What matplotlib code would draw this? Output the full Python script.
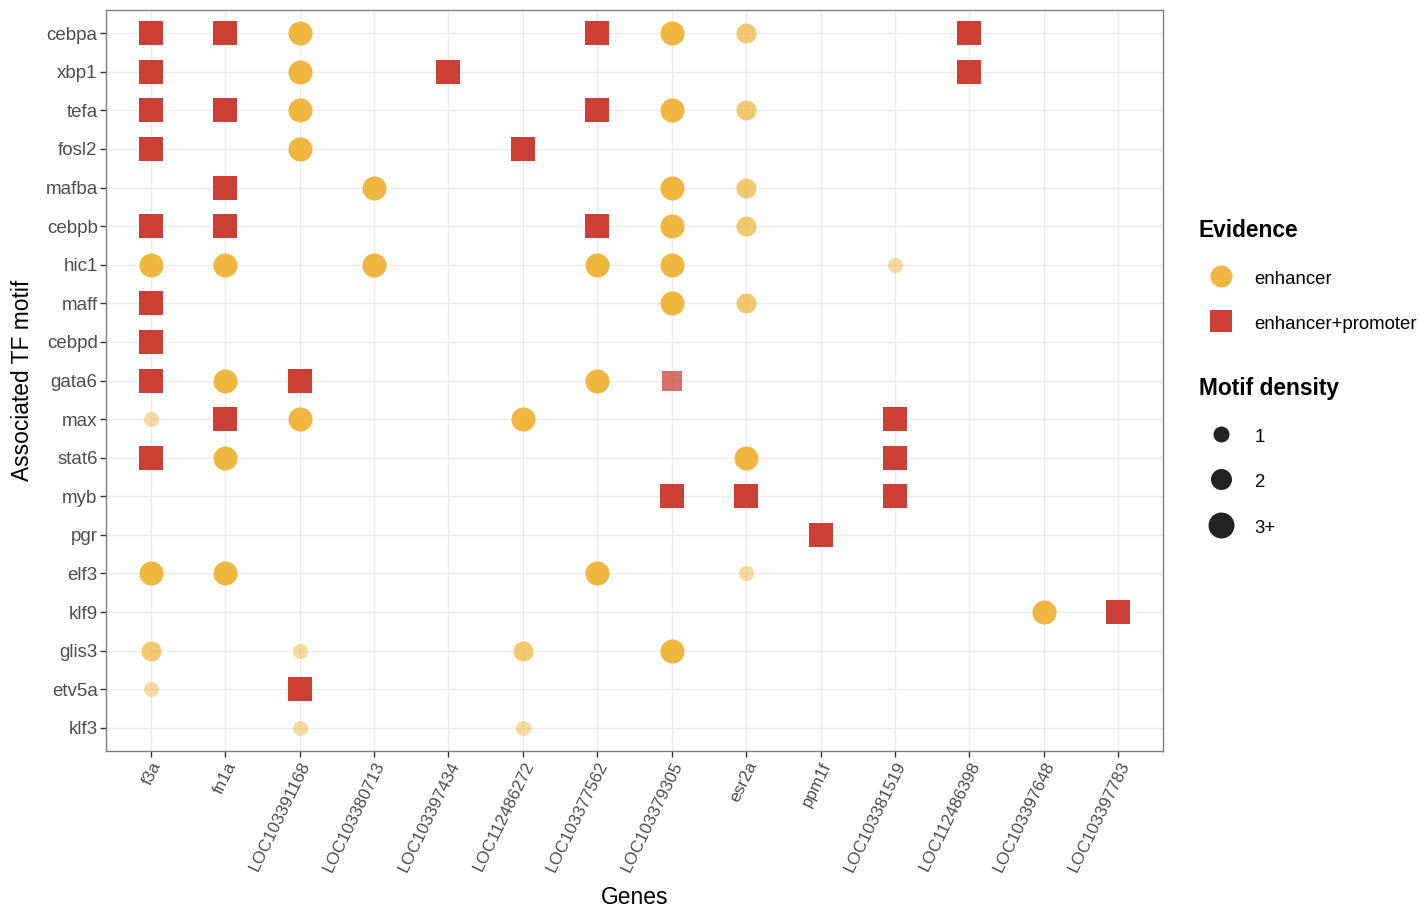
import matplotlib
matplotlib.use('Agg')
import matplotlib.pyplot as plt
from matplotlib.lines import Line2D

plt.rcParams['font.family'] = ['Liberation Sans', 'DejaVu Sans']

# Categories
genes = ['f3a', 'fn1a', 'LOC103391168', 'LOC103380713', 'LOC103397434',
         'LOC112486272', 'LOC103377562', 'LOC103379305', 'esr2a', 'ppm1f',
         'LOC103381519', 'LOC112486398', 'LOC103397648', 'LOC103397783']
motifs = ['cebpa', 'xbp1', 'tefa', 'fosl2', 'mafba', 'cebpb', 'hic1', 'maff',
          'cebpd', 'gata6', 'max', 'stat6', 'myb', 'pgr', 'elf3', 'klf9',
          'glis3', 'etv5a', 'klf3']

# Points: (motif, gene, evidence, motif density)  E = enhancer, EP = enhancer+promoter
points = [
    ('cebpa', 'f3a', 'EP', 3), ('cebpa', 'fn1a', 'EP', 3), ('cebpa', 'LOC103391168', 'E', 3),
    ('cebpa', 'LOC103377562', 'EP', 3), ('cebpa', 'LOC103379305', 'E', 3), ('cebpa', 'esr2a', 'E', 2),
    ('cebpa', 'LOC112486398', 'EP', 3),
    ('xbp1', 'f3a', 'EP', 3), ('xbp1', 'LOC103391168', 'E', 3), ('xbp1', 'LOC103397434', 'EP', 3),
    ('xbp1', 'LOC112486398', 'EP', 3),
    ('tefa', 'f3a', 'EP', 3), ('tefa', 'fn1a', 'EP', 3), ('tefa', 'LOC103391168', 'E', 3),
    ('tefa', 'LOC103377562', 'EP', 3), ('tefa', 'LOC103379305', 'E', 3), ('tefa', 'esr2a', 'E', 2),
    ('fosl2', 'f3a', 'EP', 3), ('fosl2', 'LOC103391168', 'E', 3), ('fosl2', 'LOC112486272', 'EP', 3),
    ('mafba', 'fn1a', 'EP', 3), ('mafba', 'LOC103380713', 'E', 3), ('mafba', 'LOC103379305', 'E', 3),
    ('mafba', 'esr2a', 'E', 2),
    ('cebpb', 'f3a', 'EP', 3), ('cebpb', 'fn1a', 'EP', 3), ('cebpb', 'LOC103377562', 'EP', 3),
    ('cebpb', 'LOC103379305', 'E', 3), ('cebpb', 'esr2a', 'E', 2),
    ('hic1', 'f3a', 'E', 3), ('hic1', 'fn1a', 'E', 3), ('hic1', 'LOC103380713', 'E', 3),
    ('hic1', 'LOC103377562', 'E', 3), ('hic1', 'LOC103379305', 'E', 3), ('hic1', 'LOC103381519', 'E', 1),
    ('maff', 'f3a', 'EP', 3), ('maff', 'LOC103379305', 'E', 3), ('maff', 'esr2a', 'E', 2),
    ('cebpd', 'f3a', 'EP', 3),
    ('gata6', 'f3a', 'EP', 3), ('gata6', 'fn1a', 'E', 3), ('gata6', 'LOC103391168', 'EP', 3),
    ('gata6', 'LOC103377562', 'E', 3), ('gata6', 'LOC103379305', 'EP', 2),
    ('max', 'f3a', 'E', 1), ('max', 'fn1a', 'EP', 3), ('max', 'LOC103391168', 'E', 3),
    ('max', 'LOC112486272', 'E', 3), ('max', 'LOC103381519', 'EP', 3),
    ('stat6', 'f3a', 'EP', 3), ('stat6', 'fn1a', 'E', 3), ('stat6', 'esr2a', 'E', 3),
    ('stat6', 'LOC103381519', 'EP', 3),
    ('myb', 'LOC103379305', 'EP', 3), ('myb', 'esr2a', 'EP', 3), ('myb', 'LOC103381519', 'EP', 3),
    ('pgr', 'ppm1f', 'EP', 3),
    ('elf3', 'f3a', 'E', 3), ('elf3', 'fn1a', 'E', 3), ('elf3', 'LOC103377562', 'E', 3),
    ('elf3', 'esr2a', 'E', 1),
    ('klf9', 'LOC103397648', 'E', 3), ('klf9', 'LOC103397783', 'EP', 3),
    ('glis3', 'f3a', 'E', 2), ('glis3', 'LOC103391168', 'E', 1), ('glis3', 'LOC112486272', 'E', 2),
    ('glis3', 'LOC103379305', 'E', 3),
    ('etv5a', 'f3a', 'E', 1), ('etv5a', 'LOC103391168', 'EP', 3),
    ('klf3', 'LOC103391168', 'E', 1), ('klf3', 'LOC112486272', 'E', 1),
]

evidence_labels = {'E': 'enhancer', 'EP': 'enhancer+promoter'}
density_labels = {1: '1', 2: '2', 3: '3+'}

colors = {'E': '#F0B740', 'EP': '#CC3F35'}
markers = {'E': 'o', 'EP': 's'}
sizes = {1: 117, 2: 207, 3: 300}
alphas = {1: 0.5, 2: 0.75, 3: 1.0}

fig = plt.figure(figsize=(14.24, 9.14), dpi=100)
ax = fig.add_axes([106 / 1424, 1 - 751 / 914, (1163 - 106) / 1424, (751 - 10) / 914])

xpos = {g: i for i, g in enumerate(genes)}
ypos = {m: len(motifs) - 1 - i for i, m in enumerate(motifs)}

for motif, gene, ev, dens in points:
    ax.scatter(xpos[gene], ypos[motif], s=sizes[dens], marker=markers[ev],
               color=colors[ev], alpha=alphas[dens], linewidths=0, zorder=3)

ax.set_xlim(-0.6, len(genes) - 1 + 0.6)
ax.set_ylim(-0.6, len(motifs) - 1 + 0.6)
ax.set_xticks(range(len(genes)))
ax.set_xticklabels(genes, rotation=64, ha='right', va='top', rotation_mode='anchor')
ax.set_yticks([ypos[m] for m in motifs])
ax.set_yticklabels(motifs)
ax.tick_params(axis='both', colors='#333333', labelcolor='#4D4D4D',
               length=4, width=1, pad=2)
ax.tick_params(axis='y', labelsize=13.5)
ax.tick_params(axis='x', labelsize=12.3)
ax.grid(True, color='#EBEBEB', linewidth=1, zorder=0)
ax.set_axisbelow(True)
for sp in ax.spines.values():
    sp.set_color('#7F7F7F')
    sp.set_linewidth(1)

ax.set_xlabel('Genes', fontsize=16.4, labelpad=8)
ax.set_ylabel('Associated TF motif', fontsize=16.4, labelpad=8)

# Legends
legend_kw = dict(loc='upper left', frameon=False, fontsize=13.4,
                 title_fontproperties={'weight': 'bold', 'size': 16.4},
                 borderpad=0, borderaxespad=0, handlelength=2.36, handleheight=1.2,
                 labelspacing=1.38, handletextpad=0.62, alignment='left')

ev_handles = [Line2D([], [], linestyle='none', marker=markers[k], markersize=15.8,
                     markerfacecolor=colors[k], markeredgewidth=0, label=evidence_labels[k])
              for k in ['E', 'EP']]
leg1 = fig.legend(handles=ev_handles, title='Evidence',
                  bbox_to_anchor=(1199 / 1424, 1 - 219 / 914), **legend_kw)

dens_handles = [Line2D([], [], linestyle='none', marker='o', markersize=ms,
                       markerfacecolor='#222222', markeredgewidth=0, label=density_labels[k])
                for k, ms in zip([1, 2, 3], [11.5, 15.1, 18.7])]
leg2 = fig.legend(handles=dens_handles, title='Motif density',
                  bbox_to_anchor=(1199 / 1424, 1 - 377 / 914), **legend_kw)

fig.savefig('out.png', dpi=100)
